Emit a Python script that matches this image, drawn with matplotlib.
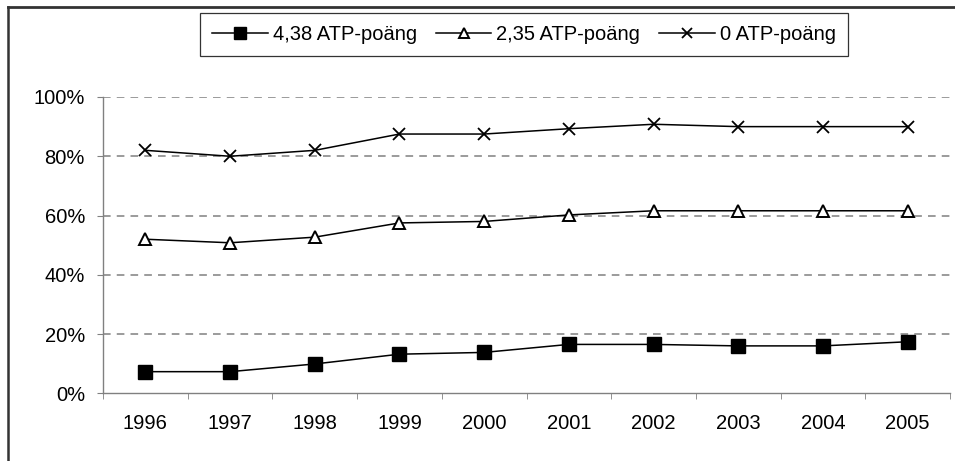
import matplotlib
matplotlib.use('Agg')
import matplotlib.pyplot as plt
from matplotlib.lines import Line2D
from matplotlib.ticker import FuncFormatter

plt.rcParams['font.family'] = ['Liberation Sans', 'DejaVu Sans']

years = ['1996', '1997', '1998', '1999', '2000', '2001', '2002', '2003', '2004', '2005']
atp_438 = [7.3, 7.3, 9.9, 13.2, 13.8, 16.5, 16.5, 16.0, 16.0, 17.4]
atp_235 = [52.0, 50.8, 52.7, 57.5, 58.0, 60.2, 61.6, 61.6, 61.6, 61.6]
atp_0 = [82.0, 80.0, 82.0, 87.5, 87.5, 89.3, 90.8, 90.0, 90.0, 90.0]
labels = ['4,38 ATP-poäng', '2,35 ATP-poäng', '0 ATP-poäng']

W, H = 955, 461
fig = plt.figure(figsize=(W / 100, H / 100), dpi=100)
ax = fig.add_axes([103 / W, 1 - 393.3 / H, (950 - 103) / W, (393.3 - 97) / H])

# outer chart frame: only its top and left edges fall inside the image
top = 1 - 7 / H
left = 7.5 / W
fig.add_artist(Line2D([left, 1.0], [top, top], transform=fig.transFigure,
                      color='#333333', linewidth=2.0, zorder=10))
fig.add_artist(Line2D([left, left], [0.0, top], transform=fig.transFigure,
                      color='#333333', linewidth=1.8, zorder=10))

x = range(len(years))
ax.plot(x, atp_438, color='black', lw=1.1, marker='s', ms=10.5,
        mfc='black', mec='black', label=labels[0])
ax.plot(x, atp_235, color='black', lw=1.1, marker='^', ms=8.5,
        mfc='white', mec='black', mew=1.4, label=labels[1])
ax.plot(x, atp_0, color='black', lw=1.1, marker='x', ms=9,
        mec='black', mew=1.3, label=labels[2])

ax.set_xlim(-0.5, len(years) - 0.5)
ax.set_ylim(0, 100)
ax.set_yticks(range(0, 101, 20))
ax.yaxis.set_major_formatter(FuncFormatter(lambda v, p: f'{int(v)}%'))
ax.set_xticks(x)
ax.set_xticklabels(years)
ax.set_xticks([i - 0.5 for i in range(len(years) + 1)], minor=True)
ax.tick_params(axis='x', which='major', length=0, pad=15, labelsize=14.5)
ax.tick_params(axis='x', which='minor', length=4, direction='out', color='#808080')
ax.tick_params(axis='y', length=4.5, direction='out', color='#808080', labelsize=14.5, pad=8.5)

for y in range(20, 101, 20):
    ax.axhline(y, color='#808080', lw=1.1, ls=(0, (5, 4)), zorder=0)

for side in ['top', 'right']:
    ax.spines[side].set_visible(False)
for side in ['left', 'bottom']:
    ax.spines[side].set_color('#808080')
    ax.spines[side].set_linewidth(1.0)

leg = fig.legend(loc='upper center', bbox_to_anchor=(524 / W, 1 - 13.3 / H),
                 ncol=3, frameon=True, fancybox=False, fontsize=14.5,
                 handlelength=2.75, handletextpad=0.25, columnspacing=0.95,
                 borderpad=0.6, borderaxespad=0)
leg.get_frame().set_edgecolor('black')
leg.get_frame().set_linewidth(0.9)
for h, ms in zip(leg.legend_handles, [8, 7, 7]):
    h.set_markersize(ms)

fig.savefig('out.png', dpi=100)
